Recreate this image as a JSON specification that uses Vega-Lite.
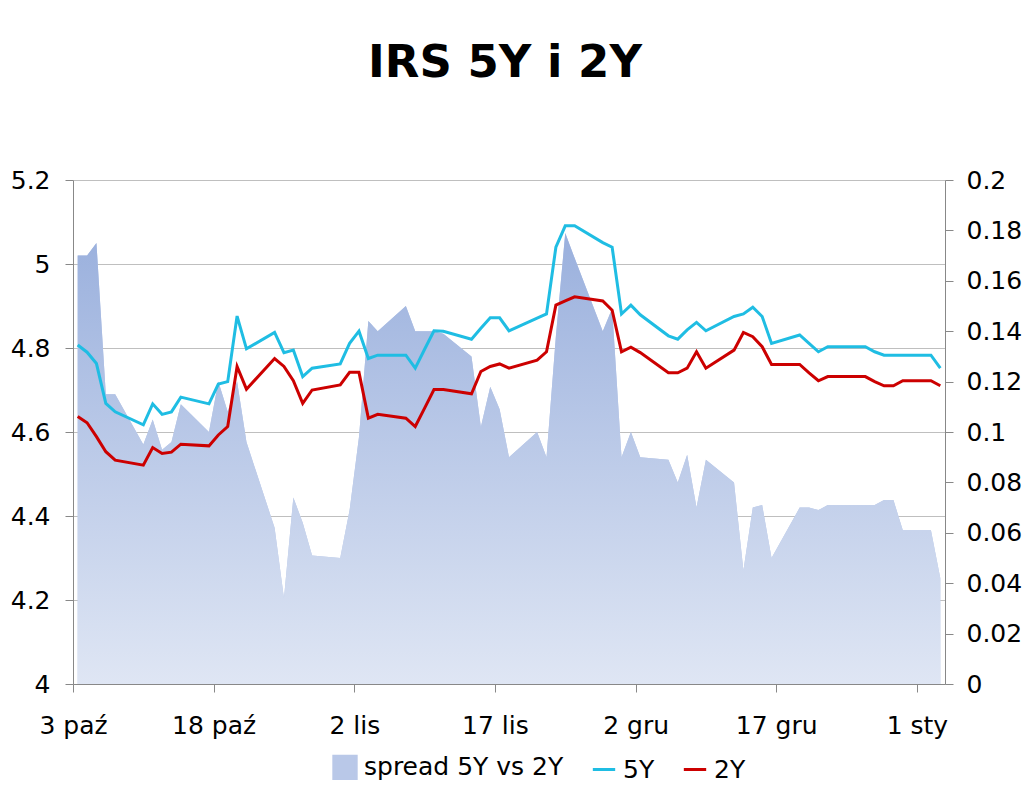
{
  "$schema": "https://vega.github.io/schema/vega-lite/v6.json",
  "width": 872,
  "height": 504,
  "autosize": {"type": "none"},
  "padding": {"left": 73, "top": 180, "right": 79, "bottom": 107},
  "title": {"text": "IRS 5Y i 2Y", "font": "DejaVu Sans", "fontSize": 45, "fontWeight": "bold", "color": "#000000", "anchor": "middle", "baseline": "alphabetic", "offset": 46, "dx": -4},
  "data": {"values": [
    {"date": "2011-10-03", "5Y": 4.807, "2Y": 4.637, "spread": 0.170},
    {"date": "2011-10-04", "5Y": 4.790, "2Y": 4.622, "spread": 0.170},
    {"date": "2011-10-05", "5Y": 4.763, "2Y": 4.589, "spread": 0.175},
    {"date": "2011-10-06", "5Y": 4.668, "2Y": 4.553, "spread": 0.115},
    {"date": "2011-10-07", "5Y": 4.648, "2Y": 4.533, "spread": 0.115},
    {"date": "2011-10-10", "5Y": 4.617, "2Y": 4.521, "spread": 0.095},
    {"date": "2011-10-11", "5Y": 4.667, "2Y": 4.563, "spread": 0.105},
    {"date": "2011-10-12", "5Y": 4.642, "2Y": 4.549, "spread": 0.093},
    {"date": "2011-10-13", "5Y": 4.648, "2Y": 4.552, "spread": 0.096},
    {"date": "2011-10-14", "5Y": 4.683, "2Y": 4.571, "spread": 0.111},
    {"date": "2011-10-17", "5Y": 4.667, "2Y": 4.567, "spread": 0.100},
    {"date": "2011-10-18", "5Y": 4.714, "2Y": 4.593, "spread": 0.120},
    {"date": "2011-10-19", "5Y": 4.720, "2Y": 4.613, "spread": 0.108},
    {"date": "2011-10-20", "5Y": 4.876, "2Y": 4.756, "spread": 0.120},
    {"date": "2011-10-21", "5Y": 4.798, "2Y": 4.702, "spread": 0.096},
    {"date": "2011-10-24", "5Y": 4.837, "2Y": 4.775, "spread": 0.062},
    {"date": "2011-10-25", "5Y": 4.789, "2Y": 4.756, "spread": 0.034},
    {"date": "2011-10-26", "5Y": 4.795, "2Y": 4.722, "spread": 0.074},
    {"date": "2011-10-27", "5Y": 4.732, "2Y": 4.668, "spread": 0.064},
    {"date": "2011-10-28", "5Y": 4.752, "2Y": 4.700, "spread": 0.051},
    {"date": "2011-10-31", "5Y": 4.762, "2Y": 4.712, "spread": 0.050},
    {"date": "2011-11-01", "5Y": 4.811, "2Y": 4.742, "spread": 0.069},
    {"date": "2011-11-02", "5Y": 4.840, "2Y": 4.742, "spread": 0.098},
    {"date": "2011-11-03", "5Y": 4.775, "2Y": 4.633, "spread": 0.144},
    {"date": "2011-11-04", "5Y": 4.783, "2Y": 4.642, "spread": 0.140},
    {"date": "2011-11-07", "5Y": 4.783, "2Y": 4.633, "spread": 0.150},
    {"date": "2011-11-08", "5Y": 4.752, "2Y": 4.613, "spread": 0.140},
    {"date": "2011-11-09", "5Y": 4.797, "2Y": 4.657, "spread": 0.140},
    {"date": "2011-11-10", "5Y": 4.841, "2Y": 4.701, "spread": 0.140},
    {"date": "2011-11-11", "5Y": 4.840, "2Y": 4.701, "spread": 0.139},
    {"date": "2011-11-14", "5Y": 4.821, "2Y": 4.691, "spread": 0.130},
    {"date": "2011-11-15", "5Y": 4.847, "2Y": 4.744, "spread": 0.102},
    {"date": "2011-11-16", "5Y": 4.872, "2Y": 4.756, "spread": 0.118},
    {"date": "2011-11-17", "5Y": 4.872, "2Y": 4.762, "spread": 0.109},
    {"date": "2011-11-18", "5Y": 4.841, "2Y": 4.752, "spread": 0.090},
    {"date": "2011-11-21", "5Y": 4.871, "2Y": 4.771, "spread": 0.100},
    {"date": "2011-11-22", "5Y": 4.881, "2Y": 4.791, "spread": 0.090},
    {"date": "2011-11-23", "5Y": 5.040, "2Y": 4.902, "spread": 0.138},
    {"date": "2011-11-24", "5Y": 5.091, "2Y": 4.912, "spread": 0.179},
    {"date": "2011-11-25", "5Y": 5.091, "2Y": 4.922, "spread": 0.169},
    {"date": "2011-11-28", "5Y": 5.051, "2Y": 4.912, "spread": 0.140},
    {"date": "2011-11-29", "5Y": 5.040, "2Y": 4.890, "spread": 0.149},
    {"date": "2011-11-30", "5Y": 4.881, "2Y": 4.791, "spread": 0.090},
    {"date": "2011-12-01", "5Y": 4.902, "2Y": 4.802, "spread": 0.100},
    {"date": "2011-12-02", "5Y": 4.879, "2Y": 4.789, "spread": 0.090},
    {"date": "2011-12-05", "5Y": 4.829, "2Y": 4.741, "spread": 0.089},
    {"date": "2011-12-06", "5Y": 4.821, "2Y": 4.741, "spread": 0.080},
    {"date": "2011-12-07", "5Y": 4.843, "2Y": 4.752, "spread": 0.091},
    {"date": "2011-12-08", "5Y": 4.861, "2Y": 4.791, "spread": 0.070},
    {"date": "2011-12-09", "5Y": 4.841, "2Y": 4.752, "spread": 0.089},
    {"date": "2011-12-12", "5Y": 4.875, "2Y": 4.795, "spread": 0.080},
    {"date": "2011-12-13", "5Y": 4.881, "2Y": 4.837, "spread": 0.045},
    {"date": "2011-12-14", "5Y": 4.897, "2Y": 4.827, "spread": 0.070},
    {"date": "2011-12-15", "5Y": 4.875, "2Y": 4.803, "spread": 0.071},
    {"date": "2011-12-16", "5Y": 4.811, "2Y": 4.761, "spread": 0.050},
    {"date": "2011-12-19", "5Y": 4.831, "2Y": 4.761, "spread": 0.070},
    {"date": "2011-12-20", "5Y": 4.811, "2Y": 4.741, "spread": 0.070},
    {"date": "2011-12-21", "5Y": 4.791, "2Y": 4.722, "spread": 0.069},
    {"date": "2011-12-22", "5Y": 4.803, "2Y": 4.732, "spread": 0.071},
    {"date": "2011-12-23", "5Y": 4.803, "2Y": 4.732, "spread": 0.071},
    {"date": "2011-12-26", "5Y": 4.803, "2Y": 4.732, "spread": 0.071},
    {"date": "2011-12-27", "5Y": 4.791, "2Y": 4.720, "spread": 0.071},
    {"date": "2011-12-28", "5Y": 4.783, "2Y": 4.710, "spread": 0.073},
    {"date": "2011-12-29", "5Y": 4.783, "2Y": 4.710, "spread": 0.073},
    {"date": "2011-12-30", "5Y": 4.783, "2Y": 4.722, "spread": 0.061},
    {"date": "2012-01-02", "5Y": 4.783, "2Y": 4.722, "spread": 0.061},
    {"date": "2012-01-03", "5Y": 4.752, "2Y": 4.710, "spread": 0.042}
  ]},
  "layer": [
    {
      "layer": [
        {
          "mark": {"type": "area", "opacity": 1},
          "encoding": {
            "x": {
              "field": "date", "type": "temporal",
              "scale": {"type": "utc", "domain": [{"year": 2011, "month": 10, "date": 2, "hours": 12, "utc": true}, {"year": 2012, "month": 1, "date": 3, "hours": 12, "utc": true}]},
              "axis": {
                "title": null, "grid": false,
                "values": [
                  {"year": 2011, "month": 10, "date": 2, "hours": 12, "utc": true},
                  {"year": 2011, "month": 10, "date": 17, "hours": 12, "utc": true},
                  {"year": 2011, "month": 11, "date": 1, "hours": 12, "utc": true},
                  {"year": 2011, "month": 11, "date": 16, "hours": 12, "utc": true},
                  {"year": 2011, "month": 12, "date": 1, "hours": 12, "utc": true},
                  {"year": 2011, "month": 12, "date": 16, "hours": 12, "utc": true},
                  {"year": 2011, "month": 12, "date": 31, "hours": 12, "utc": true}
                ],
                "labelExpr": "utcdate(time(datum.value) + 43200000) + ' ' + ['sty','lut','mar','kwi','maj','cze','lip','sie','wrz','paź','lis','gru'][utcmonth(time(datum.value) + 43200000)]",
                "labelPadding": 21, "labelFlush": false, "labelOverlap": false
              }
            },
            "y": {
              "field": "spread", "type": "quantitative",
              "scale": {"domain": [0, 0.2], "nice": false, "zero": true},
              "axis": {"orient": "right", "title": null, "grid": false, "values": [0, 0.02, 0.04, 0.06, 0.08, 0.1, 0.12, 0.14, 0.16, 0.18, 0.2], "format": "~g", "labelPadding": 13, "labelFlush": false}
            },
            "color": {
              "datum": "spread 5Y vs 2Y", "type": "nominal",
              "scale": {"domain": ["spread 5Y vs 2Y", "5Y", "2Y"], "range": ["#B9C8E8", "#1FBDE3", "#CC0000"]},
              "legend": {
                "title": null, "orient": "none", "legendX": 259, "legendY": 574, "direction": "horizontal",
                "labelFontSize": 25, "labelColor": "#000000", "labelLimit": 400, "symbolSize": 500, "symbolStrokeWidth": 3, "columnPadding": 22, "labelOffset": 6, "padding": 0,
                "encode": {"symbols": {"update": {
                  "shape": {"signal": "datum.value === 'spread 5Y vs 2Y' ? 'square' : 'stroke'"},
                  "fill": {"signal": "datum.value === 'spread 5Y vs 2Y' ? {gradient: 'linear', x1: 0, y1: 1, x2: 0, y2: 0, stops: [{offset: 0, color: '#D3DCF0'}, {offset: 1, color: '#A2B6E0'}]} : 'transparent'"},
                  "stroke": {"signal": "datum.value === 'spread 5Y vs 2Y' ? 'transparent' : scale('color', datum.value)"},
                  "strokeWidth": {"value": 3},
                  "opacity": {"value": 1}
                }}}
              }
            }
          }
        },
        {
          "mark": {"type": "area", "opacity": 1, "color": {"gradient": "linear", "x1": 0, "y1": 1, "x2": 0, "y2": 0, "stops": [{"offset": 0, "color": "#DFE6F4"}, {"offset": 1, "color": "#9AB0DD"}]}},
          "encoding": {
            "x": {"field": "date", "type": "temporal"},
            "y": {"field": "spread", "type": "quantitative"}
          }
        }
      ]
    },
    {
      "transform": [{"fold": ["5Y", "2Y"], "as": ["series", "rate"]}],
      "mark": {"type": "line", "strokeWidth": 3},
      "encoding": {
        "x": {"field": "date", "type": "temporal"},
        "y": {
          "field": "rate", "type": "quantitative",
          "scale": {"domain": [4, 5.2], "nice": false, "zero": false},
          "axis": {"orient": "left", "title": null, "grid": true, "gridColor": "#BFBFBF", "values": [4, 4.2, 4.4, 4.6, 4.8, 5, 5.2], "format": "~g", "labelPadding": 15, "labelFlush": false}
        },
        "color": {
          "field": "series", "type": "nominal",
          "scale": {"domain": ["spread 5Y vs 2Y", "5Y", "2Y"], "range": ["#B9C8E8", "#1FBDE3", "#CC0000"]},
          "legend": {
            "title": null, "orient": "none", "legendX": 259, "legendY": 574, "direction": "horizontal",
            "labelFontSize": 25, "labelColor": "#000000", "labelLimit": 400, "symbolSize": 500, "symbolStrokeWidth": 3, "columnPadding": 22, "labelOffset": 6, "padding": 0,
            "encode": {"symbols": {"update": {
              "shape": {"signal": "datum.value === 'spread 5Y vs 2Y' ? 'square' : 'stroke'"},
              "fill": {"signal": "datum.value === 'spread 5Y vs 2Y' ? {gradient: 'linear', x1: 0, y1: 1, x2: 0, y2: 0, stops: [{offset: 0, color: '#D3DCF0'}, {offset: 1, color: '#A2B6E0'}]} : 'transparent'"},
              "stroke": {"signal": "datum.value === 'spread 5Y vs 2Y' ? 'transparent' : scale('color', datum.value)"},
              "strokeWidth": {"value": 3},
              "opacity": {"value": 1}
            }}}
          }
        }
      }
    }
  ],
  "resolve": {"scale": {"y": "independent"}},
  "config": {
    "view": {"stroke": null},
    "font": "DejaVu Sans",
    "axis": {"labelFont": "DejaVu Sans", "labelFontSize": 25, "labelColor": "#000000", "domainColor": "#888888", "tickColor": "#888888", "tickSize": 8, "domainWidth": 1, "tickWidth": 1},
    "legend": {"labelFont": "DejaVu Sans"}
  }
}
